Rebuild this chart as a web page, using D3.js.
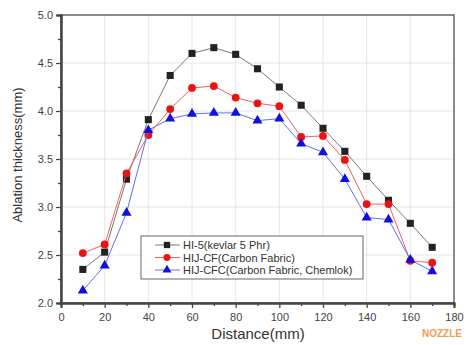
<!DOCTYPE html>
<html lang="en">
<head>
    <meta charset="UTF-8">
    <script src="https://d3js.org/d3.v7.min.js"></script>
    <title>Ablation thickness</title>
    <style>
        body { margin: 0; background: #fff; }
        text { font-family: "Liberation Sans", Arial, sans-serif; }
    </style>
</head>
<body>
    <div id="chart"></div>
    <script>
        // Data
        var distance = [10, 20, 30, 40, 50, 60, 70, 80, 90, 100, 110, 120, 130, 140, 150, 160, 170];
        var hi5 = [2.35, 2.53, 3.29, 3.91, 4.37, 4.60, 4.66, 4.59, 4.44, 4.25, 4.06, 3.82, 3.58, 3.32, 3.07, 2.83, 2.58];
        var hijCF = [2.52, 2.61, 3.35, 3.75, 4.02, 4.24, 4.26, 4.14, 4.08, 4.05, 3.73, 3.74, 3.49, 3.03, 3.03, 2.44, 2.42];
        var hijCFC = [2.13, 2.39, 2.94, 3.80, 3.92, 3.97, 3.98, 3.98, 3.90, 3.92, 3.66, 3.57, 3.29, 2.89, 2.87, 2.45, 2.33];
        var seriesNames = ["HI-5(kevlar 5 Phr)", "HIJ-CF(Carbon Fabric)", "HIJ-CFC(Carbon Fabric, Chemlok)"];
        var xTicks = [0, 20, 40, 60, 80, 100, 120, 140, 160, 180];
        var yTicks = [2.0, 2.5, 3.0, 3.5, 4.0, 4.5, 5.0];

        var W = 469, H = 345;
        var margin = { top: 15, right: 15, bottom: 42, left: 61 };
        var width = W - margin.left - margin.right,
            height = H - margin.top - margin.bottom;

        var svg = d3.select("#chart").append("svg")
            .attr("width", W)
            .attr("height", H);
        var g = svg.append("g")
            .attr("transform", "translate(" + margin.left + "," + margin.top + ")");

        var xScale = d3.scaleLinear().domain([0, 180]).range([0, width]);
        var yScale = d3.scaleLinear().domain([2.0, 5.0]).range([height, 0]);

        // grid
        g.selectAll("line.gx")
            .data(xTicks.slice(1, -1))
            .enter().append("line")
            .attr("x1", function (d) { return xScale(d); })
            .attr("x2", function (d) { return xScale(d); })
            .attr("y1", 0).attr("y2", height)
            .attr("stroke", "#e6e6e6").attr("stroke-width", 1);
        g.selectAll("line.gy")
            .data(yTicks.slice(1, -1))
            .enter().append("line")
            .attr("y1", function (d) { return yScale(d); })
            .attr("y2", function (d) { return yScale(d); })
            .attr("x1", 0).attr("x2", width)
            .attr("stroke", "#e6e6e6").attr("stroke-width", 1);

        // frame
        g.append("rect")
            .attr("width", width).attr("height", height)
            .attr("fill", "none").attr("stroke", "#666").attr("stroke-width", 1.5);

        // axes
        g.append("g")
            .attr("transform", "translate(0," + height + ")")
            .call(d3.axisBottom(xScale).tickValues(xTicks).tickSize(5).tickPadding(5));
        g.append("g")
            .attr("transform", "translate(0," + height + ")")
            .call(d3.axisBottom(xScale).tickValues(d3.range(10, 180, 20)).tickSize(3).tickFormat(""));
        g.append("g")
            .call(d3.axisLeft(yScale).tickValues(yTicks).tickSize(5).tickPadding(3)
                .tickFormat(d3.format(".1f")));
        g.append("g")
            .call(d3.axisLeft(yScale).tickValues(d3.range(2.25, 5, 0.5)).tickSize(3).tickFormat(""));

        g.selectAll(".domain").attr("stroke", "#444").attr("stroke-width", 2);
        g.selectAll(".tick line").attr("stroke", "#444").attr("stroke-width", 1.3);
        g.selectAll(".tick text")
            .attr("fill", "#444")
            .style("font-size", "11px")
            .style("font-family", "Liberation Sans, Arial, sans-serif");

        // titles
        svg.append("text")
            .attr("transform", "translate(22,155) rotate(-90)")
            .attr("text-anchor", "middle")
            .attr("fill", "#333")
            .style("font-size", "13px")
            .text("Ablation thickness(mm)");
        svg.append("text")
            .attr("x", 258).attr("y", 339)
            .attr("text-anchor", "middle")
            .attr("fill", "#333")
            .style("font-size", "15px")
            .text("Distance(mm)");
        svg.append("text")
            .attr("x", 462).attr("y", 337)
            .attr("text-anchor", "end")
            .attr("fill", "#f0a050")
            .style("font-size", "10px")
            .style("font-weight", "bold")
            .text("NOZZLE");

        // series
        var series = [
            { name: seriesNames[0], values: hi5, color: "#222", line: "#777", shape: d3.symbolSquare, size: 50 },
            { name: seriesNames[1], values: hijCF, color: "#ee1111", line: "#f06060", shape: d3.symbolCircle, size: 48 },
            { name: seriesNames[2], values: hijCFC, color: "#1111dd", line: "#6070f0", shape: d3.symbolTriangle, size: 44 }
        ];

        var line = d3.line()
            .x(function (d, i) { return xScale(distance[i]); })
            .y(function (d) { return yScale(d); });

        series.forEach(function (s) {
            g.append("path")
                .datum(s.values)
                .attr("d", line)
                .attr("fill", "none")
                .attr("stroke", s.line)
                .attr("stroke-width", 1);
            g.selectAll(null)
                .data(s.values)
                .enter().append("path")
                .attr("d", d3.symbol().type(s.shape).size(s.size))
                .attr("transform", function (d, i) {
                    return "translate(" + xScale(distance[i]) + "," + yScale(d) + ")";
                })
                .attr("fill", s.color);
        });

        // legend
        var lx = 141 - margin.left, ly = 236 - margin.top;
        var legend = g.append("g").attr("transform", "translate(" + lx + "," + ly + ")");
        legend.append("rect")
            .attr("width", 222).attr("height", 43)
            .attr("fill", "#fff").attr("stroke", "#666").attr("stroke-width", 1);
        series.forEach(function (s, i) {
            var y = 9 + i * 12.5;
            legend.append("line")
                .attr("x1", 14).attr("x2", 39).attr("y1", y).attr("y2", y)
                .attr("stroke", s.line).attr("stroke-width", 1);
            legend.append("path")
                .attr("d", d3.symbol().type(s.shape).size(s.size * 0.8))
                .attr("transform", "translate(26," + y + ")")
                .attr("fill", s.color);
            legend.append("text")
                .attr("x", 42).attr("y", y + 4)
                .attr("fill", "#333")
                .style("font-size", "11px")
                .text(s.name);
        });
    </script>
</body>
</html>
